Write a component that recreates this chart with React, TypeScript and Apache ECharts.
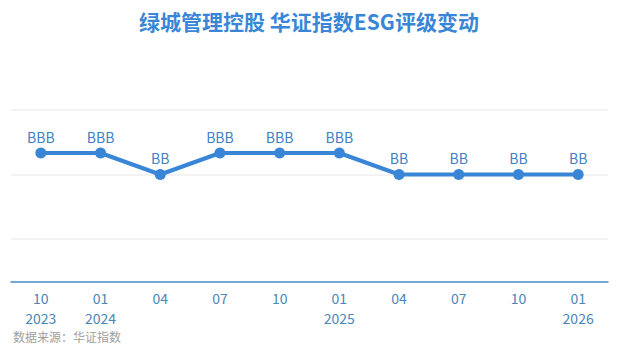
import React, { useEffect, useRef } from "react";
import * as echarts from "echarts";

const months = ["10", "01", "04", "07", "10", "01", "04", "07", "10", "01"];
const years = ["2023", "2024", "", "", "", "2025", "", "", "", "2026"];
const ratings = ["BBB", "BBB", "BB", "BBB", "BBB", "BBB", "BB", "BB", "BB", "BB"];
const ratingScale = ["CCC", "B", "BB", "BBB", "A"]; // index +1 => numeric level
const gridLevels = [0, 3, 6];

export default function App() {
  const ref = useRef<HTMLDivElement>(null);
  useEffect(() => {
    if (!ref.current) return;
    const chart = echarts.init(ref.current, undefined, { renderer: "svg" });
    const cats = months.map((m, i) => (years[i] ? m + "\n" + years[i] : m));
    const values = ratings.map((r) => ratingScale.indexOf(r) + 1);
    const blue = "#3a86d6";
    chart.setOption({
      animation: false,
      title: {
        text: "绿城管理控股 华证指数ESG评级变动",
        left: "center",
        top: 5,
        textStyle: {
          fontFamily: "Noto Sans CJK SC",
          fontSize: 21,
          fontWeight: "bold",
          color: "#3a86d6",
        },
      },
      graphic: [
        {
          type: "text",
          left: 13,
          top: 330,
          style: {
            text: "数据来源：华证指数",
            fontFamily: "Noto Sans CJK SC",
            fontSize: 12,
            fill: "#a0a0a0",
          },
        },
      ],
      grid: { left: 11, right: 10, top: 110, bottom: 73 },
      xAxis: {
        type: "category",
        data: cats,
        boundaryGap: true,
        axisLine: { onZero: false, lineStyle: { color: "#4a8cc8", width: 1.5 } },
        axisTick: { alignWithLabel: true, length: 5, lineStyle: { color: "#4a8cc8" } },
        axisLabel: {
          color: "#4a86b8",
          fontSize: 14,
          lineHeight: 20,
          margin: 6,
          fontFamily: "Noto Sans CJK SC",
          interval: 0,
        },
      },
      yAxis: {
        type: "value",
        min: -2,
        max: 6,
        axisLine: { show: false },
        axisTick: { show: false },
        axisLabel: { show: false },
        splitLine: { show: false },
      },
      series: [
        {
          type: "line",
          data: values,
          symbol: "circle",
          symbolSize: 11,
          lineStyle: { color: blue, width: 4 },
          itemStyle: { color: blue },
          label: {
            show: true,
            position: "top",
            distance: 4,
            formatter: (p: any) => ratings[p.dataIndex],
            color: "#3f82c4",
            fontSize: 14,
            fontFamily: "Noto Sans CJK SC",
          },
          markLine: {
            silent: true,
            symbol: "none",
            label: { show: false },
            lineStyle: { color: "#efefef", type: "solid", width: 1.5 },
            data: gridLevels.map((v) => ({ yAxis: v })),
            z: 0,
          },
          z: 3,
        },
      ],
    });
    return () => chart.dispose();
  }, []);
  return <div ref={ref} style={{ width: 618, height: 355, margin: -8 }} />;
}
